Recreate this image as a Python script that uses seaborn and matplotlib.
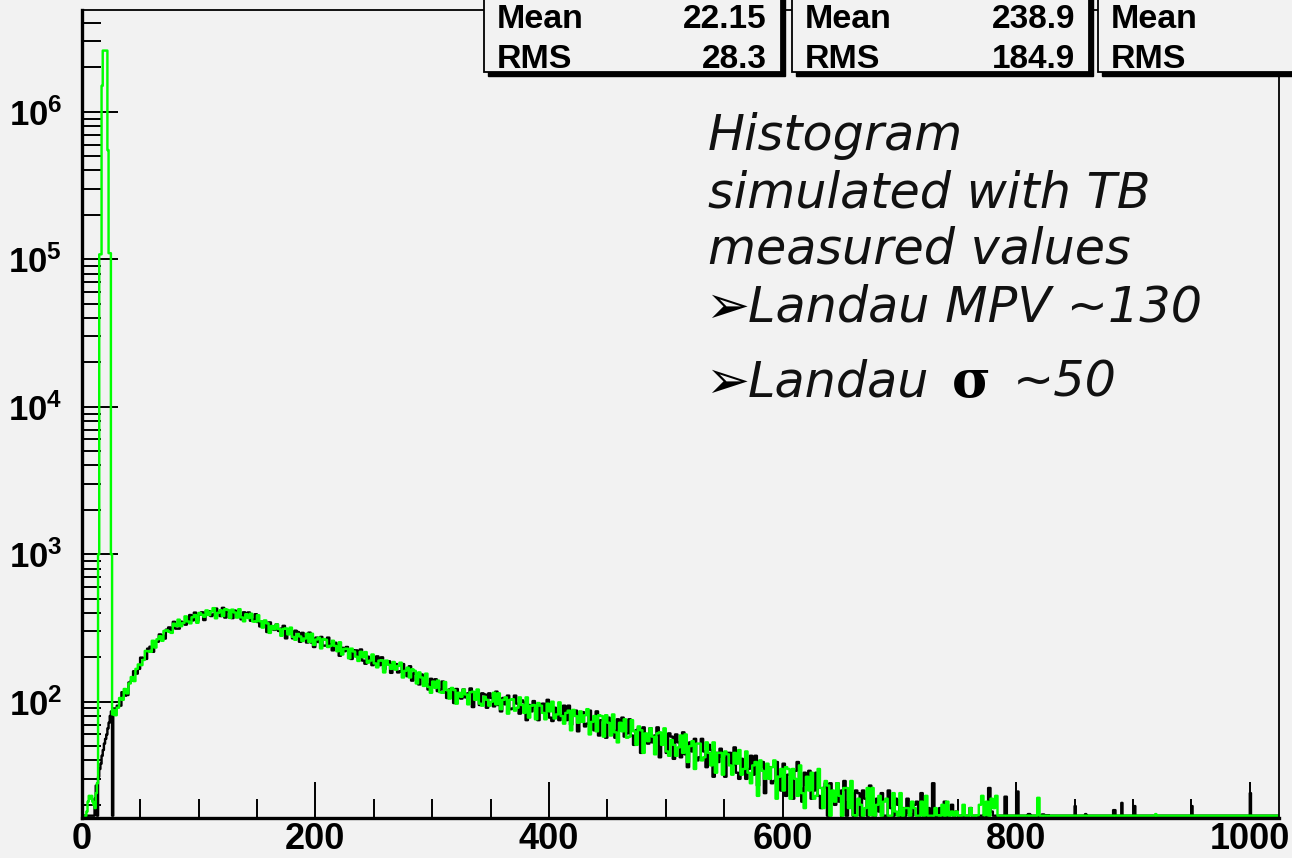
import numpy as np
import pandas as pd
import matplotlib
matplotlib.use("Agg")
import matplotlib.pyplot as plt
import seaborn as sns
from matplotlib.patches import Rectangle
from matplotlib.ticker import FixedLocator, MultipleLocator, LogLocator, NullFormatter

# ---------------- data ----------------
# 1-ADC bins from 0 to 28 (pedestal / noise peak region)
low_black = [0, 0, 0, 0, 0, 0, 0, 0, 0, 0, 0, 22, 27, 0, 31, 35, 38, 43, 47, 52,
             56, 60, 66, 72, 80, 86, 0, 90]
low_green = [0, 0, 0, 0, 18, 21, 23, 22, 23, 21, 20, 19, 24, 28, 1000, 108000, 108000,
             1500000, 2600000, 2600000, 2600000, 2600000, 550000, 110000, 110000, 1000, 82, 88]

# 2-ADC bins from 28 to 828 (Landau body)
black_body = [
    90, 94, 94, 116, 110, 111, 135, 139, 161, 155,
    167, 199, 198, 195, 229, 236, 218, 255, 255, 286,
    282, 268, 308, 319, 306, 348, 313, 313, 349, 345,
    333, 353, 387, 356, 402, 354, 389, 404, 358, 408,
    411, 381, 391, 428, 405, 381, 433, 372, 407, 410,
    369, 415, 404, 381, 362, 404, 377, 403, 354, 361,
    392, 347, 324, 349, 349, 297, 345, 323, 307, 334,
    302, 313, 327, 269, 292, 301, 269, 303, 297, 255,
    293, 276, 252, 294, 252, 235, 272, 254, 275, 240,
    240, 272, 246, 223, 251, 243, 205, 232, 220, 235,
    219, 195, 222, 223, 199, 226, 190, 181, 202, 192,
    177, 186, 203, 177, 200, 166, 183, 188, 157, 181,
    180, 158, 161, 180, 164, 149, 174, 139, 156, 154,
    131, 153, 146, 132, 121, 143, 129, 142, 118, 121,
    137, 116, 106, 121, 122, 98, 122, 114, 105, 121,
    107, 114, 123, 92, 106, 112, 95, 114, 112, 91,
    114, 106, 93, 117, 95, 86, 106, 96, 110, 89,
    90, 110, 97, 83, 102, 99, 75, 95, 86, 101,
    91, 75, 96, 97, 84, 103, 78, 74, 91, 84,
    75, 81, 94, 75, 94, 70, 82, 87, 63, 83,
    85, 68, 71, 87, 74, 64, 86, 59, 75, 75,
    57, 78, 73, 64, 57, 76, 65, 78, 58, 61,
    76, 59, 51, 64, 66, 45, 67, 60, 52, 66,
    53, 59, 67, 42, 54, 59, 45, 61, 58, 41,
    60, 53, 42, 62, 44, 36, 53, 46, 56, 40,
    42, 56, 46, 36, 51, 47, 31, 45, 39, 48,
    42, 31, 45, 45, 37, 49, 33, 30, 41, 36,
    30, 35, 43, 32, 43, 27, 36, 39, 24, 36,
    36, 28, 29, 39, 32, 25, 38, 23, 32, 32,
    22, 34, 39, 26, 21, 33, 27, 34, 22, 25,
    33, 23, 19, 26, 28, 16, 28, 24, 20, 28,
    21, 25, 29, 15, 21, 24, 16, 25, 24, 14,
    25, 22, 15, 27, 17, 12, 22, 18, 24, 15,
    15, 25, 19, 12, 22, 20, 9, 19, 15, 22,
    17.5, 11, 20, 21, 15, 24, 13, 11, 19, 16,
    28, 16, 12, 19, 15, 21, 11, 17, 20, 14,
    18, 12, 0, 17, 14, 0, 19, 13, 0, 16,
    0, 14, 17, 13, 26, 18, 0, 15, 0, 12,
    0, 22.7, 0, 0, 0, 0, 24.6, 0, 0, 0,
    0, 17.3, 0, 0, 0, 0, 0, 17.2, 0, 17,
]
green_body = [
    81, 91, 106, 103, 122, 114, 133, 147, 138, 167,
    179, 177, 192, 221, 220, 218, 259, 233, 265, 278,
    259, 302, 305, 298, 293, 338, 326, 360, 325, 342,
    379, 350, 340, 374, 387, 343, 400, 389, 377, 416,
    387, 409, 431, 368, 401, 417, 381, 424, 419, 370,
    421, 403, 372, 424, 373, 351, 392, 369, 395, 350,
    349, 386, 351, 318, 356, 340, 293, 326, 310, 334,
    311, 280, 312, 314, 286, 318, 275, 263, 288, 277,
    258, 268, 289, 254, 289, 243, 264, 272, 230, 266,
    263, 235, 239, 259, 239, 220, 253, 209, 228, 229,
    197, 229, 219, 202, 189, 218, 200, 217, 184, 190,
    209, 182, 171, 190, 191, 158, 190, 178, 167, 186,
    165, 175, 184, 146, 162, 170, 146, 166, 162, 133,
    158, 146, 128, 155, 126, 115, 137, 124, 139, 116,
    115, 136, 120, 105, 124, 120, 97, 115, 108, 121,
    112, 96, 116, 117, 103, 121, 97, 94, 108, 103,
    94, 100, 115, 96, 114, 89, 103, 107, 83, 103,
    104, 87, 91, 107, 95, 84, 107, 78, 94, 95,
    76, 98, 94, 84, 76, 97, 86, 100, 77, 82,
    99, 80, 71, 84, 87, 64, 88, 80, 72, 86,
    73, 81, 89, 60, 73, 80, 63, 81, 80, 58,
    81, 72, 59, 82, 62, 53, 72, 63, 76, 57,
    58, 75, 63, 51, 68, 64, 45, 61, 54, 66,
    58, 44, 61, 62, 51, 66, 46, 43, 55, 51,
    43, 49, 59, 45, 60, 39, 50, 54, 35, 52,
    52, 40, 42, 53, 45, 37, 53, 33, 45, 45,
    32, 46, 44, 37, 32, 45, 38, 47, 32, 35,
    46, 33, 28, 37, 39, 23, 40, 34, 30, 38,
    30, 36, 40, 22, 31, 35, 25, 36, 35, 22,
    35, 30, 23, 37, 24, 19, 31, 25, 33, 22,
    23, 35, 26, 19, 29, 27, 16, 25, 21, 28,
    23, 16, 26, 26, 19, 29, 17, 16, 22, 20,
    15, 19, 26, 17, 26, 14, 20, 23, 12, 21,
    22, 14, 16, 24, 18, 13, 24, 11, 19, 19,
    11, 21, 19, 15, 11, 21, 16, 23, 13, 15,
    14, 19, 17, 12, 20, 16, 21, 13, 18, 12,
    18, 0, 16, 20, 13, 0, 19, 15, 0, 17,
    20, 23, 17, 21, 0, 22, 19, 23, 15, 0,
    0, 0, 0, 0, 0, 0, 0, 0, 0, 0,
    0, 0, 0, 0, 0, 22.3, 0, 0, 0, 0,
]

# sparse 1-ADC spikes in the far tail (828 .. 1025)
tail_black_adc = [850, 859, 883, 884, 890, 901, 950, 1000]
tail_black_counts = [19.6, 17.3, 18.4, 18.4, 20.6, 19.6, 19.6, 24]
tail_green_adc = [919]
tail_green_counts = [17.3]

x_ticks = [0, 200, 400, 600, 800, 1000]
y_ticks = [1e2, 1e3, 1e4, 1e5, 1e6]
y_tick_labels = [r"$\mathbf{10^{2}}$", r"$\mathbf{10^{3}}$", r"$\mathbf{10^{4}}$",
                 r"$\mathbf{10^{5}}$", r"$\mathbf{10^{6}}$"]
stat_means = ["22.15", "238.9", ""]
stat_rms = ["28.3", "184.9", ""]

# ---------------- build histogram inputs ----------------
body_start, body_width, body_end, x_max = 28, 2, 828, 1025
edges = np.concatenate([np.arange(0, body_start, 1),
                        np.arange(body_start, body_end, body_width),
                        np.arange(body_end, x_max + 1, 1)]).astype(float).tolist()


def series_frame(low, body, tail_x, tail_c):
    xs = list(np.arange(len(low)) + 0.5)
    xs += list(body_start + body_width * np.arange(len(body)) + body_width / 2)
    xs += [t + 0.5 for t in tail_x]
    ws = list(low) + list(body) + list(tail_c)
    return pd.DataFrame({"adc": np.array(xs, float), "counts": np.array(ws, float)})


df_black = series_frame(low_black, black_body, tail_black_adc, tail_black_counts)
df_green = series_frame(low_green, green_body, tail_green_adc, tail_green_counts)

# ---------------- style ----------------
BG = "#f2f2f2"
plt.rcParams.update({
    "font.family": ["Liberation Sans", "DejaVu Sans"],
    "mathtext.fontset": "custom",
    "mathtext.bf": "Liberation Sans:bold",
    "mathtext.rm": "Liberation Sans:bold",
    "axes.linewidth": 1.4,
})

W, H = 1292, 858
Y_MIN, Y_MAX = 16.2, 4.9e6
fig = plt.figure(figsize=(W / 100, H / 100), dpi=100, facecolor=BG)
ax = fig.add_axes([81.7 / W, 1 - 818.3 / H, (1279 - 81.7) / W, (818.3 - 10) / H])
ax.set_facecolor(BG)

sns.histplot(data=df_black, x="adc", weights="counts", bins=edges, element="step",
             fill=False, color="black", linewidth=1.75, ax=ax)
sns.histplot(data=df_green, x="adc", weights="counts", bins=edges, element="step",
             fill=False, color="#00ff00", linewidth=1.75, ax=ax)

# empty bins are drawn resting on the x axis, as ROOT does
floor = 10 ** (np.log10(Y_MIN) + 2.6 / 147.5)
for ln in ax.lines:
    yd = np.asarray(ln.get_ydata(), float)
    ln.set_ydata(np.maximum(yd, floor))

ax.set_yscale("log")
ax.set_xlim(0, x_max)
ax.set_ylim(Y_MIN, Y_MAX)
ax.set_xlabel("")
ax.set_ylabel("")

ax.xaxis.set_major_locator(FixedLocator(x_ticks))
ax.xaxis.set_minor_locator(MultipleLocator(50))
ax.set_xticklabels([str(t) for t in x_ticks], fontweight="bold")
ax.yaxis.set_major_locator(FixedLocator(y_ticks))
ax.set_yticklabels(y_tick_labels)
ax.yaxis.set_minor_locator(LogLocator(base=10, subs=np.arange(2, 10)))
ax.yaxis.set_minor_formatter(NullFormatter())

ax.tick_params(axis="both", which="major", direction="in", length=26, width=1.4,
               labelsize=26, color="black")
ax.tick_params(axis="y", which="major", labelsize=25)
ax.tick_params(axis="both", which="minor", direction="in", length=13.5, width=1.4,
               color="black")
ax.tick_params(axis="x", which="major", pad=3)
ax.tick_params(axis="y", which="major", pad=14)
ax.tick_params(top=False, right=False, which="both")
for side in ["left", "bottom"]:
    ax.spines[side].set_linewidth(2.4)
for side in ["top", "right"]:
    ax.spines[side].set_linewidth(1.3)


def fx(px):
    return px / W


def fy(py):
    return 1 - py / H


# ---------------- stat boxes ----------------
boxes = [(484, 781), (792, 1089), (1098, 1420)]
for (l, r), m, s in zip(boxes, stat_means, stat_rms):
    shadow = Rectangle((fx(l + 4), fy(76)), fx(r - l), fy(-20) - fy(76),
                       transform=fig.transFigure, facecolor="black", edgecolor="black",
                       zorder=5)
    box = Rectangle((fx(l), fy(72)), fx(r - l), fy(-20) - fy(72),
                    transform=fig.transFigure, facecolor=BG, edgecolor="black",
                    linewidth=1.3, zorder=6)
    fig.add_artist(shadow)
    fig.add_artist(box)
    fig.text(fx(l + 13), fy(28), "Mean", fontsize=24.5, fontweight="bold",
             va="baseline", ha="left", zorder=7)
    fig.text(fx(l + 13), fy(68), "RMS", fontsize=24.5, fontweight="bold",
             va="baseline", ha="left", zorder=7)
    if m:
        fig.text(fx(r - 14), fy(28), m, fontsize=24, fontweight="bold",
                 va="baseline", ha="right", zorder=7)
        fig.text(fx(r - 14), fy(68), s, fontsize=24, fontweight="bold",
                 va="baseline", ha="right", zorder=7)

# ---------------- annotation ----------------
ital = dict(family="DejaVu Sans", style="italic", fontsize=35.5, color="#111111",
            va="baseline", ha="left")
fig.text(fx(708), fy(150), "Histogram", **ital)
fig.text(fx(708), fy(207), "simulated with TB", **ital)
fig.text(fx(708), fy(263), "measured values", **ital)
arrow = dict(family="DejaVu Sans", fontsize=38, color="black", va="baseline", ha="left")
fig.text(fx(705), fy(323), "\u27a2", **arrow)
fig.text(fx(748), fy(322), "Landau MPV ~130", **ital)
fig.text(fx(705), fy(398), "\u27a2", **arrow)
fig.text(fx(748), fy(397), "Landau", **ital)
fig.text(fx(952), fy(397), "\u03c3", family="DejaVu Serif", fontweight="bold",
         fontsize=38, color="black", va="baseline", ha="left")
fig.text(fx(1013), fy(397), "~50", **ital)

fig.savefig("out.png", dpi=100, facecolor=BG)
